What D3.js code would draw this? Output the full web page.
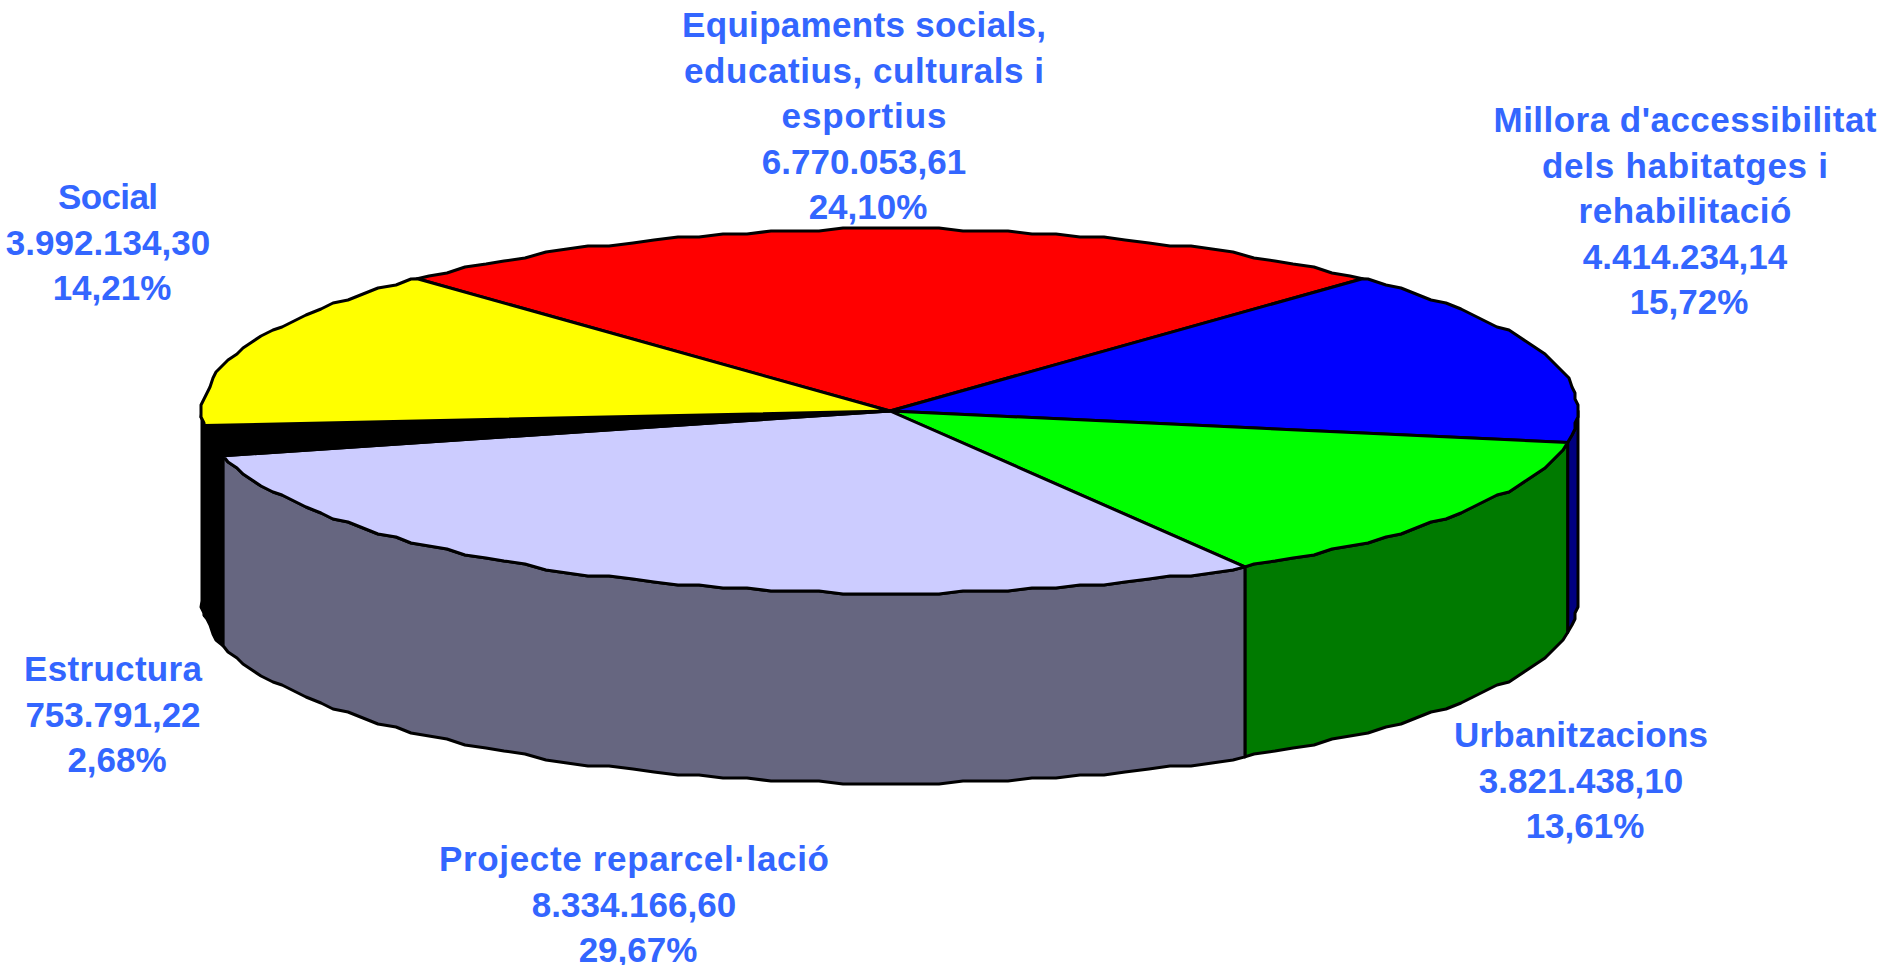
<!DOCTYPE html>
<html>
<head>
<meta charset="utf-8">
<script src="https://cdn.jsdelivr.net/npm/d3@7"></script>
<style>
  html, body { margin: 0; padding: 0; background: #fff; }
  svg { display: block; }
  text { font-family: "Liberation Sans", Arial, sans-serif; font-weight: bold; fill: #3366ff; }
</style>
</head>
<body>
<svg id="chart" width="1884" height="965"></svg>
<script>
var categories = ["Equipaments socials, educatius, culturals i esportius", "Millora d'accessibilitat dels habitatges i rehabilitació", "Urbanitzacions", "Projecte reparcel·lació", "Estructura", "Social"]
var values = [6770053.61, 4414234.14, 3821438.10, 8334166.60, 753791.22, 3992134.30]
var valueLabels = ["6.770.053,61", "4.414.234,14", "3.821.438,10", "8.334.166,60", "753.791,22", "3.992.134,30"]
var percentLabels = ["24,10%", "15,72%", "13,61%", "29,67%", "2,68%", "14,21%"]
var nameLines = [
    ["Equipaments socials,", "educatius, culturals i", "esportius"],
    ["Millora d'accessibilitat", "dels habitatges i", "rehabilitació"],
    ["Urbanitzacions"],
    ["Projecte reparcel·lació"],
    ["Estructura"],
    ["Social"]
]

var topColors = ["#ff0000", "#0000ff", "#00ff00", "#ccccff", "#000000", "#ffff00"]
var wallColors = ["#800000", "#000080", "#007a00", "#666680", "#000000", "#808000"]

// the name lines are spaced wider than the font is, so fit them to these widths
var nameWidths = [
    [364, 360, 165],
    [383, 286, 213],
    [254],
    [390],
    [178],
    [100]
]
// centre x and first baseline of every label block
var labelX = [864, 1685, 1581, 634, 113, 108]
var labelY = [37, 132, 747, 871, 681, 209]
var lineStep = 45.6
var percentShift = 4

var cx = 890, cy = 411, rx = 688, ry = 182, depth = 190
var startAngle = -43.4 * Math.PI / 180
var gridStep = 2 * Math.PI / 180

var svg = d3.select("#chart")

var pie = d3.pie()
    .sort(null)
    .startAngle(startAngle)
    .endAngle(startAngle + 2 * Math.PI)

var slices = pie(values)

var scaleX = d3.scaleLinear().domain([-1, 1]).range([cx - rx, cx + rx])
var scaleY = d3.scaleLinear().domain([-1, 1]).range([cy - ry, cy + ry])

// the outline of the original is a rough low-res ellipse, so snap the points
function rimPoint(a, snap) {
    var x = scaleX(Math.sin(a))
    var y = scaleY(-Math.cos(a))
    if (snap) {
        x = Math.round(x / 3) * 3
        y = Math.round(y / 3) * 3
    }
    return [x, y]
}

function rim(a0, a1) {
    var pts = [rimPoint(a0, false)]
    var first = Math.ceil(a0 / gridStep + 0.2)
    var last = Math.floor(a1 / gridStep - 0.2)
    for (var k = first; k <= last; k++) {
        pts.push(rimPoint(k * gridStep, true))
    }
    pts.push(rimPoint(a1, false))
    return pts
}

var line = d3.line()

// walls: only the part of the rim that faces the viewer, back to front
var wallOrder = [1, 5, 2, 4, 3]
wallOrder.forEach(function(i) {
    var d = slices[i]
    var a0 = Math.max(d.startAngle, Math.PI / 2)
    var a1 = Math.min(d.endAngle, 3 * Math.PI / 2)
    if (a1 <= a0) return
    var upper = rim(a0, a1)
    var lower = upper.map(function(p) {
        return [p[0], p[1] + depth]
    }).reverse()
    svg.append("path")
        .attr("d", line(upper.concat(lower)) + "Z")
        .attr("fill", wallColors[i])
        .attr("stroke", "#000")
        .attr("stroke-width", 3)
        .attr("stroke-linejoin", "round")
})

// top faces
svg.selectAll("path.top")
    .data(slices)
    .enter().append("path")
    .attr("class", "top")
    .attr("d", function(d) {
        return line([[cx, cy]].concat(rim(d.startAngle, d.endAngle))) + "Z"
    })
    .attr("fill", function(d, i) {
        return topColors[i]
    })
    .attr("stroke", "#000")
    .attr("stroke-width", 3)
    .attr("stroke-linejoin", "round")

// labels
categories.forEach(function(c, i) {
    var lines = nameLines[i].concat([valueLabels[i], percentLabels[i]])
    lines.forEach(function(s, j) {
        var isPercent = j == lines.length - 1
        var t = svg.append("text")
            .attr("text-anchor", "middle")
            .attr("font-size", 35)
            .attr("x", labelX[i] + (isPercent ? percentShift : 0))
            .attr("y", labelY[i] + j * lineStep)
            .text(s)
        if (j < nameLines[i].length) {
            t.attr("textLength", nameWidths[i][j]).attr("lengthAdjust", "spacing")
        }
    })
})
</script>
</body>
</html>
